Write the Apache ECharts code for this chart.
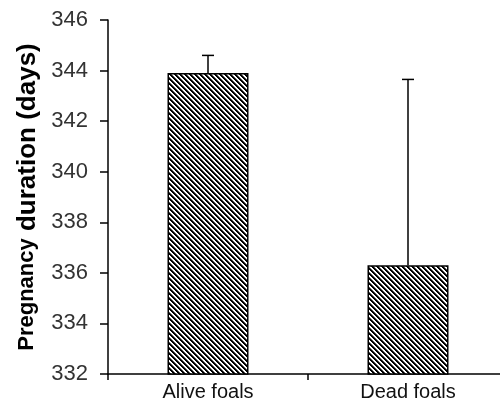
<!DOCTYPE html>
<html>
<head>
<meta charset="utf-8">
<script src="https://cdn.jsdelivr.net/npm/echarts@6/dist/echarts.min.js"></script>
<style>
html,body{margin:0;padding:0;background:#fff;}
#c{width:500px;height:407px;}
</style>
</head>
<body>
<div id="c"></div>
<script>
var categories = ['Alive foals', 'Dead foals'];
var meanValues = [343.9, 336.3];
var errorTops = [344.6, 343.65];
var yTicks = [332, 334, 336, 338, 340, 342, 344, 346];

// hatch pattern tile
function makeHatch() {
  var p = 5, c = document.createElement('canvas');
  c.width = p; c.height = p;
  var ctx = c.getContext('2d');
  var img = ctx.createImageData(p, p);
  for (var y = 0; y < p; y++) {
    for (var x = 0; x < p; x++) {
      var k = (((x - y) % p) + p) % p;
      var v = k < 2 ? 0 : (k === 2 ? 90 : 255);
      var i = (y * p + x) * 4;
      img.data[i] = img.data[i+1] = img.data[i+2] = v;
      img.data[i+3] = 255;
    }
  }
  ctx.putImageData(img, 0, 0);
  return c;
}

var chart = echarts.init(document.getElementById('c'), null, {renderer: 'canvas'});
var font = '"Liberation Sans", Arial, sans-serif';
chart.setOption({
  animation: false,
  backgroundColor: '#fff',
  grid: {left: 108, width: 400, top: 20, bottom: 33, containLabel: false, outerBoundsMode: 'none'},
  xAxis: {
    type: 'category',
    data: categories,
    boundaryGap: true,
    axisLine: {lineStyle: {color: '#000', width: 1.5}},
    axisTick: {show: true, length: 6, lineStyle: {color: '#000', width: 1.5}},
    axisLabel: {color: '#111', fontFamily: font, fontSize: 20, margin: 8}
  },
  yAxis: {
    type: 'value',
    min: yTicks[0],
    max: yTicks[yTicks.length - 1],
    interval: 2,
    splitLine: {show: false},
    axisLine: {show: true, lineStyle: {color: '#000', width: 1.5}},
    axisTick: {show: true, length: 8, lineStyle: {color: '#000', width: 1.5}},
    axisLabel: {color: '#333', fontFamily: font, fontSize: 22, margin: 20},
    name: '{a|Pregnancy}{b| duration (days)}',
    nameLocation: 'middle',
    nameRotate: 90,
    nameGap: 66,
    nameTextStyle: {
      fontFamily: font,
      rich: {
        a: {fontSize: 22, fontWeight: 'bold', color: '#000', fontFamily: font},
        b: {fontSize: 26, fontWeight: 'bold', color: '#000', fontFamily: font}
      }
    }
  },
  series: [
    {
      type: 'bar',
      data: meanValues,
      barWidth: 81,
      itemStyle: {
        color: {image: makeHatch(), repeat: 'repeat'},
        borderColor: '#000',
        borderWidth: 1.5
      },
      z: 2
    },
    {
      type: 'custom',
      data: categories.map(function (c, i) { return [i, meanValues[i], errorTops[i]]; }),
      renderItem: function (params, api) {
        var x = api.value(0);
        var lo = api.coord([x, api.value(1)]);
        var hi = api.coord([x, api.value(2)]);
        var w = 6;
        return {
          type: 'group',
          children: [
            {type: 'line', shape: {x1: lo[0], y1: lo[1], x2: hi[0], y2: hi[1]}, style: {stroke: '#000', lineWidth: 1.5}},
            {type: 'line', shape: {x1: hi[0] - w, y1: hi[1], x2: hi[0] + w, y2: hi[1]}, style: {stroke: '#000', lineWidth: 1.5}}
          ]
        };
      },
      z: 3
    }
  ]
});
</script>
</body>
</html>
